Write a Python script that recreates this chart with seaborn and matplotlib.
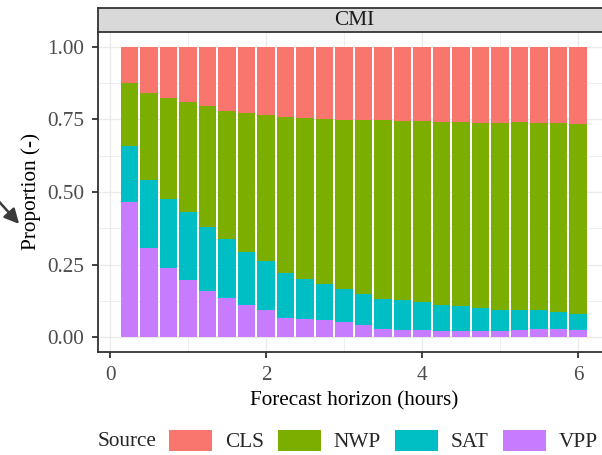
import numpy as np
import pandas as pd
import matplotlib
matplotlib.use("Agg")
import matplotlib.pyplot as plt
from matplotlib.patches import Patch, FancyArrowPatch
from matplotlib.ticker import MultipleLocator
import seaborn as sns

# Forecast horizons (hours)
horizon = [0.25, 0.5, 0.75, 1.0, 1.25, 1.5, 1.75, 2.0, 2.25, 2.5, 2.75, 3.0,
           3.25, 3.5, 3.75, 4.0, 4.25, 4.5, 4.75, 5.0, 5.25, 5.5, 5.75, 6.0]

# Share of each information source at every horizon
cls = [0.126, 0.159, 0.176, 0.190, 0.205, 0.221, 0.229, 0.236, 0.242, 0.245, 0.249, 0.252,
       0.252, 0.253, 0.256, 0.257, 0.259, 0.258, 0.264, 0.262, 0.260, 0.262, 0.264, 0.265]
nwp = [0.216, 0.300, 0.348, 0.379, 0.415, 0.442, 0.477, 0.501, 0.538, 0.555, 0.567, 0.582,
       0.599, 0.615, 0.614, 0.620, 0.630, 0.633, 0.634, 0.643, 0.646, 0.645, 0.649, 0.655]
sat = [0.192, 0.234, 0.236, 0.234, 0.221, 0.202, 0.183, 0.169, 0.153, 0.138, 0.124, 0.113,
       0.107, 0.103, 0.105, 0.098, 0.089, 0.087, 0.080, 0.073, 0.069, 0.064, 0.058, 0.055]
vpp = [0.466, 0.307, 0.240, 0.197, 0.159, 0.135, 0.111, 0.094, 0.067, 0.062, 0.060, 0.053,
       0.042, 0.029, 0.025, 0.025, 0.022, 0.022, 0.022, 0.022, 0.025, 0.029, 0.029, 0.025]

sources = ["CLS", "NWP", "SAT", "VPP"]
colors = ["#F8766D", "#7CAE00", "#00BFC4", "#C77CFF"]
panel_title = "CMI"
x_ticks = [0, 2, 4, 6]
y_ticks = [0.0, 0.25, 0.5, 0.75, 1.0]

sns.set_theme(style="white")
plt.rcParams["font.family"] = ["Liberation Serif", "DejaVu Serif"]
FS = 15.3

df = pd.DataFrame({
    "horizon": horizon * 4,
    "Source": sum([[s] * len(horizon) for s in sources], []),
    "proportion": cls + nwp + sat + vpp,
})

fig = plt.figure(figsize=(6.02, 4.55), dpi=100)
W, H = 602, 455
px0, px1, py0, py1 = 97.5, 610.0, 32.0, 352.0
ax = fig.add_axes([px0 / W, 1 - py1 / H, (px1 - px0) / W, (py1 - py0) / H])

step = 0.25
sns.histplot(data=df, x="horizon", weights="proportion", hue="Source",
             hue_order=sources, palette=colors, multiple="stack",
             binwidth=step, binrange=(horizon[0] - step / 2, horizon[-1] + step / 2),
             shrink=0.9, linewidth=0, alpha=1, legend=False, ax=ax, zorder=3)

# ggplot-like continuous scale expansion
lo, hi = horizon[0] - step * 0.45, horizon[-1] + step * 0.45
pad = (hi - lo) * 0.05
ax.set_xlim(lo - pad, hi + pad)
ax.set_ylim(-0.05, 1.05)

ax.set_xticks(x_ticks)
ax.set_yticks(y_ticks)
ax.set_yticklabels([f"{v:.2f}" for v in y_ticks])
ax.xaxis.set_minor_locator(MultipleLocator(1))
ax.yaxis.set_minor_locator(MultipleLocator(0.125))
ax.grid(True, which="major", color="#EBEBEB", lw=1.0, zorder=0)
ax.grid(True, which="minor", color="#EBEBEB", lw=0.6, zorder=0)
ax.set_axisbelow(True)
ax.tick_params(axis="both", which="major", length=4.3, width=1.3, color="#333333",
               labelsize=FS, labelcolor="#4D4D4D", pad=5.5, left=True, bottom=True)
ax.tick_params(axis="both", which="minor", length=0)

for side in ["top", "right"]:
    ax.spines[side].set_visible(False)
for side in ["left", "bottom"]:
    ax.spines[side].set_color("#333333")
    ax.spines[side].set_linewidth(1.3)

ax.set_xlabel("Forecast horizon (hours)", fontsize=FS, color="black")
ax.set_ylabel("Proportion (-)", fontsize=FS, color="black")
ax.xaxis.set_label_coords(0.5, -0.122)
ax.yaxis.set_label_coords(-0.11, 0.5)

# Facet strip
sax = fig.add_axes([px0 / W, 1 - py0 / H, (px1 - px0) / W, 24 / H])
sax.set_xticks([])
sax.set_yticks([])
sax.set_facecolor("#D9D9D9")
for sp in sax.spines.values():
    sp.set_color("#333333")
    sp.set_linewidth(1.3)
sax.text(0.5, 0.47, panel_title, ha="center", va="center", fontsize=FS,
         color="#1A1A1A", transform=sax.transAxes)

# Legend along the bottom
handles = [Patch(facecolor=c, edgecolor="none") for c in colors]
fig.text(98 / W, 1 - 441 / H, "Source", ha="left", va="center", fontsize=FS)
fig.legend(handles, sources, loc="center left", bbox_to_anchor=(169 / W, 1 - 441 / H),
           ncol=4, frameon=False, fontsize=FS, handlelength=2.02, handleheight=1.18,
           handletextpad=0.61, columnspacing=0.66, borderpad=0, borderaxespad=0)

# Pointer in the left margin
fig.add_artist(FancyArrowPatch(
    (-6 / W, 1 - 196 / H), (21 / W, 1 - 226 / H), transform=fig.transFigure,
    arrowstyle="-|>", mutation_scale=22, color="#3A3A3A", lw=1.8))

fig.savefig("out.png", dpi=100)
